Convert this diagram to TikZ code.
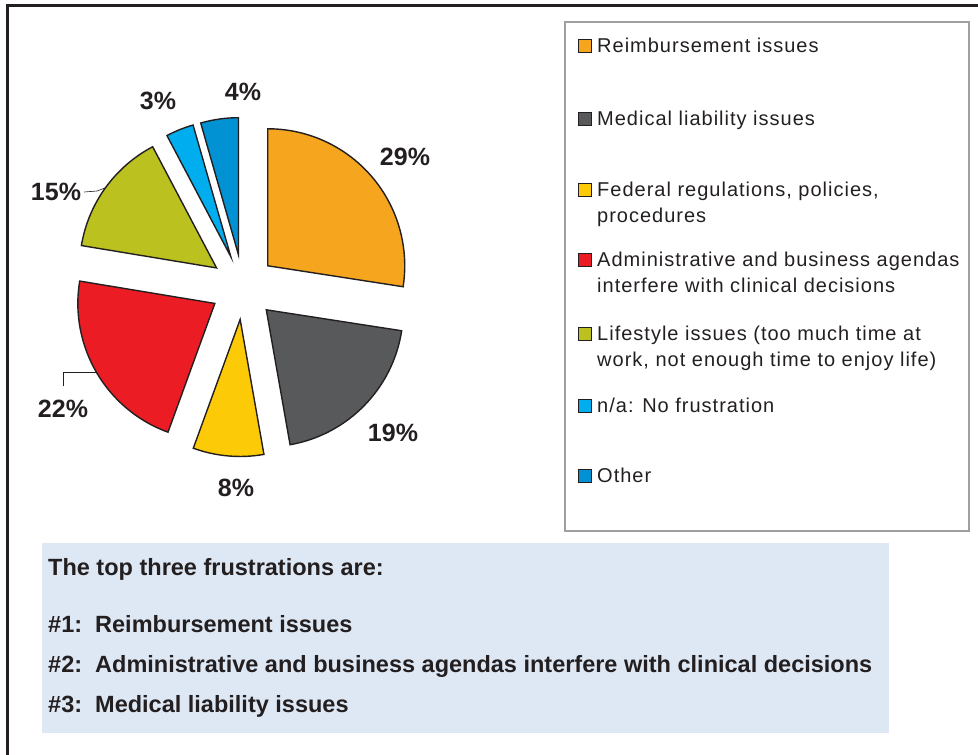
\documentclass[tikz,border=0pt]{standalone}
\usepackage{fontspec}
\setmainfont{Liberation Sans}
\newfontfamily\keyfont[LetterSpace=5]{Liberation Sans}
\usetikzlibrary{positioning,calc}

\definecolor{sliceorange}{HTML}{F5A51E}
\definecolor{slicegray}{HTML}{58595B}
\definecolor{sliceyellow}{HTML}{FDCA07}
\definecolor{slicered}{HTML}{EC1C24}
\definecolor{sliceolive}{HTML}{BBC21F}
\definecolor{slicecyan}{HTML}{00AEEF}
\definecolor{sliceblue}{HTML}{0092D2}
\definecolor{inkdark}{HTML}{231F20}
\definecolor{notebg}{HTML}{DEE8F4}

\begin{document}
\begin{tikzpicture}[x=1pt,y=1pt,
  slice/.style={draw=inkdark, line width=1.4pt, line join=miter},
  pct/.style={font=\fontsize{25}{30}\selectfont\bfseries, text=inkdark, inner sep=0pt},
  keybox/.style={draw=inkdark, line width=1pt, minimum size=13pt, inner sep=0pt},
  keytext/.style={font=\keyfont\fontsize{20}{26}\selectfont, text=inkdark, align=left, anchor=base west, inner sep=0pt},
  note/.style={font=\fontsize{23.5}{28}\selectfont\bfseries, text=inkdark, anchor=base west, inner sep=0pt}]
  \def\R{137}
  \def\ex{32.6}
  \useasboundingbox (0,0) rectangle (978,755);
  \draw[line width=3pt, inkdark] (7,0) -- (7,749) -- (978,749);
  \draw[gray!75, line width=1.5pt] (565,733) rectangle (969,224);
  \fill[notebg] (42,212) rectangle (889,22);
  \coordinate (ctr) at (243,468);
  \foreach \a/\b/\c/\n in {90/-8.8/sliceorange/p29, -8.8/-80/slicegray/p19,
      -80/-110/sliceyellow/p8, -110/-189.4/slicered/p22, -189.4/-242.2/sliceolive/p15,
      -242.2/-254/slicecyan/p3, -254/-270/sliceblue/p4}{
    \pgfmathsetmacro\m{(\a+\b)/2}
    \filldraw[slice, fill=\c] (ctr) ++(\m:\ex) -- ++(\a:\R) arc[start angle=\a, end angle=\b, radius=\R] -- cycle;
    \coordinate (\n-rim) at ($(ctr)+(\m:\ex)+(\m:\R)$);
  }
  \node[pct] (p29) at (405,598) {29\%};
  \node[pct] (p19) at (393,322) {19\%};
  \node[pct] (p8) at (236,267) {8\%};
  \node[pct] (p22) at (63,346) {22\%};
  \node[pct] (p15) at (56,563) {15\%};
  \node[pct] (p3) at (158,654) {3\%};
  \node[pct] (p4) at (243,663) {4\%};
  \draw[inkdark, line width=0.6pt] ([xshift=3pt]p15.east) -- ++(13,1) -- (p15-rim);
  \draw[inkdark, line width=0.6pt] ([yshift=14pt]p22.north) |- (p22-rim);
  \foreach \y/\d/\c/\t/\k in {702/0/sliceorange/{Reimbursement issues}/k1,
      629/0/slicegray/{Medical liability issues}/k2,
      558/26/sliceyellow/{Federal regulations, policies,\\procedures}/k3,
      488/26/slicered/{Administrative and business agendas\\interfere with clinical decisions}/k4,
      414/26/sliceolive/{Lifestyle issues (too much time at\\work, not enough time to enjoy life)}/k5,
      342/0/slicecyan/{n/a: No frustration}/k6,
      272/0/sliceblue/{Other}/k7}{
    \node[keybox, fill=\c] (\k-box) at (584.5,\y+7) {};
    \node[keytext] (\k) at (597,\y-\d) {\t};
  }
  \node[note] (head) at (48,179) {The top three frustrations are:};
  \node[note] (top1) at (48,122) {\#1:\ \ Reimbursement issues};
  \node[note] (top2) at (48,82) {\#2:\ \ Administrative and business agendas interfere with clinical decisions};
  \node[note] (top3) at (48,42) {\#3:\ \ Medical liability issues};
\end{tikzpicture}
\end{document}
